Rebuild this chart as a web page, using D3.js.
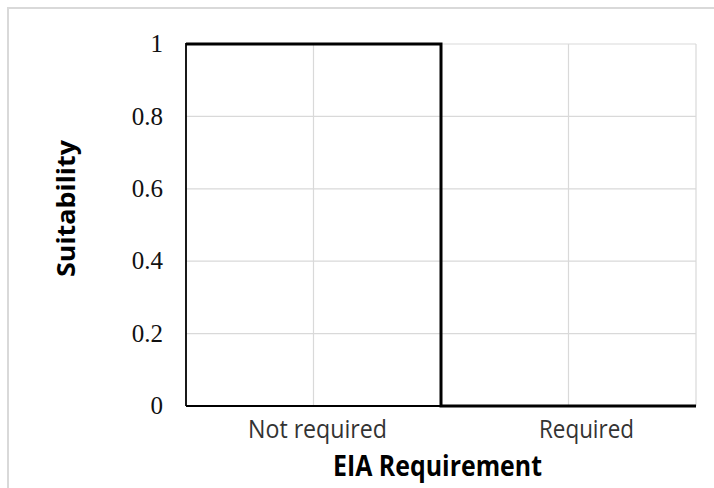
<!DOCTYPE html>
<html>
<head>
<meta charset="utf-8">
<script src="https://cdn.jsdelivr.net/npm/d3@7"></script>
<style>
  html, body { margin: 0; padding: 0; background: #fff; }
  svg { display: block; }
</style>
</head>
<body>
<svg id="chart" width="714" height="488"></svg>
<script>
// ---- data ----
const categories = ["Not required", "Required"];
const suitability = [1, 0];
const yTickValues = [0, 0.2, 0.4, 0.6, 0.8, 1];
const yTickLabels = ["0", "0.2", "0.4", "0.6", "0.8", "1"];
const xTitle = "EIA Requirement";
const yTitle = "Suitability";

// ---- layout ----
const W = 714, H = 488;
const plot = { left: 186, right: 696, top: 44, bottom: 406 };
const svg = d3.select("#chart");

// outer frame
svg.append("rect")
  .attr("x", 8).attr("y", 8)
  .attr("width", 800).attr("height", 600)
  .attr("fill", "#fff")
  .attr("stroke", "#d9d9d9").attr("stroke-width", 2);

const x = d3.scaleBand().domain(categories).range([plot.left, plot.right]).padding(0);
const y = d3.scaleLinear().domain([0, 1]).range([plot.bottom, plot.top]);

const grid = svg.append("g").attr("class", "grid");
// horizontal gridlines
grid.selectAll("line.h").data(yTickValues.filter(v => v > 0)).enter().append("line")
  .attr("class", "h")
  .attr("x1", plot.left).attr("x2", plot.right)
  .attr("y1", d => y(d)).attr("y2", d => y(d))
  .attr("stroke", "#d9d9d9").attr("stroke-width", 1.2);
// vertical gridlines: category centers and boundaries
const vGrid = [];
categories.forEach(c => {
  vGrid.push(x(c) + x.bandwidth() / 2);
  vGrid.push(x(c) + x.bandwidth());
});
grid.selectAll("line.v").data(vGrid).enter().append("line")
  .attr("class", "v")
  .attr("x1", d => d).attr("x2", d => d)
  .attr("y1", plot.top).attr("y2", plot.bottom)
  .attr("stroke", "#d9d9d9").attr("stroke-width", 1.2);

// axes lines
svg.append("line")
  .attr("x1", plot.left).attr("x2", plot.left)
  .attr("y1", plot.top - 1).attr("y2", plot.bottom)
  .attr("stroke", "#000").attr("stroke-width", 1.8);
svg.append("line")
  .attr("x1", plot.left).attr("x2", plot.right)
  .attr("y1", plot.bottom).attr("y2", plot.bottom)
  .attr("stroke", "#000").attr("stroke-width", 1.8);

// y tick labels
svg.append("g").selectAll("text").data(yTickValues).enter().append("text")
  .attr("x", 163)
  .attr("y", d => y(d))
  .attr("dy", "0.33em")
  .attr("text-anchor", "end")
  .attr("font-family", "'Liberation Serif', 'DejaVu Serif', serif")
  .attr("font-size", 25)
  .attr("fill", "#111")
  .text((d, i) => yTickLabels[i]);

// x tick labels
const xLabelShift = [4, 18];
const xLabelLen = [139, 95];
svg.append("g").selectAll("text").data(categories).enter().append("text")
  .attr("x", (d, i) => x(d) + x.bandwidth() / 2 + xLabelShift[i])
  .attr("y", 438)
  .attr("text-anchor", "middle")
  .attr("font-family", "'Open Sans', sans-serif")
  .attr("font-size", 25)
  .attr("fill", "#333")
  .attr("textLength", (d, i) => xLabelLen[i])
  .attr("lengthAdjust", "spacingAndGlyphs")
  .text(d => d);

// series step line
const pts = [];
categories.forEach((c, i) => {
  pts.push([x(c), suitability[i]]);
  pts.push([x(c) + x.bandwidth(), suitability[i]]);
});
const line = d3.line().x(d => d[0]).y(d => y(d[1]));
svg.append("path")
  .attr("d", line(pts))
  .attr("fill", "none")
  .attr("stroke", "#000")
  .attr("stroke-width", 3)
  .attr("stroke-linejoin", "miter")
  .attr("stroke-linecap", "butt");

// axis titles
svg.append("text")
  .attr("x", 437.5).attr("y", 476)
  .attr("text-anchor", "middle")
  .attr("font-family", "'Open Sans', sans-serif")
  .attr("font-weight", "bold")
  .attr("font-size", 28)
  .attr("fill", "#000")
  .attr("textLength", 209)
  .attr("lengthAdjust", "spacingAndGlyphs")
  .text(xTitle);

svg.append("text")
  .attr("transform", "translate(75,208.5) rotate(-90)")
  .attr("text-anchor", "middle")
  .attr("font-family", "'Open Sans', sans-serif")
  .attr("font-weight", "bold")
  .attr("font-size", 25)
  .attr("fill", "#000")
  .attr("textLength", 137)
  .attr("lengthAdjust", "spacingAndGlyphs")
  .text(yTitle);
</script>
</body>
</html>
